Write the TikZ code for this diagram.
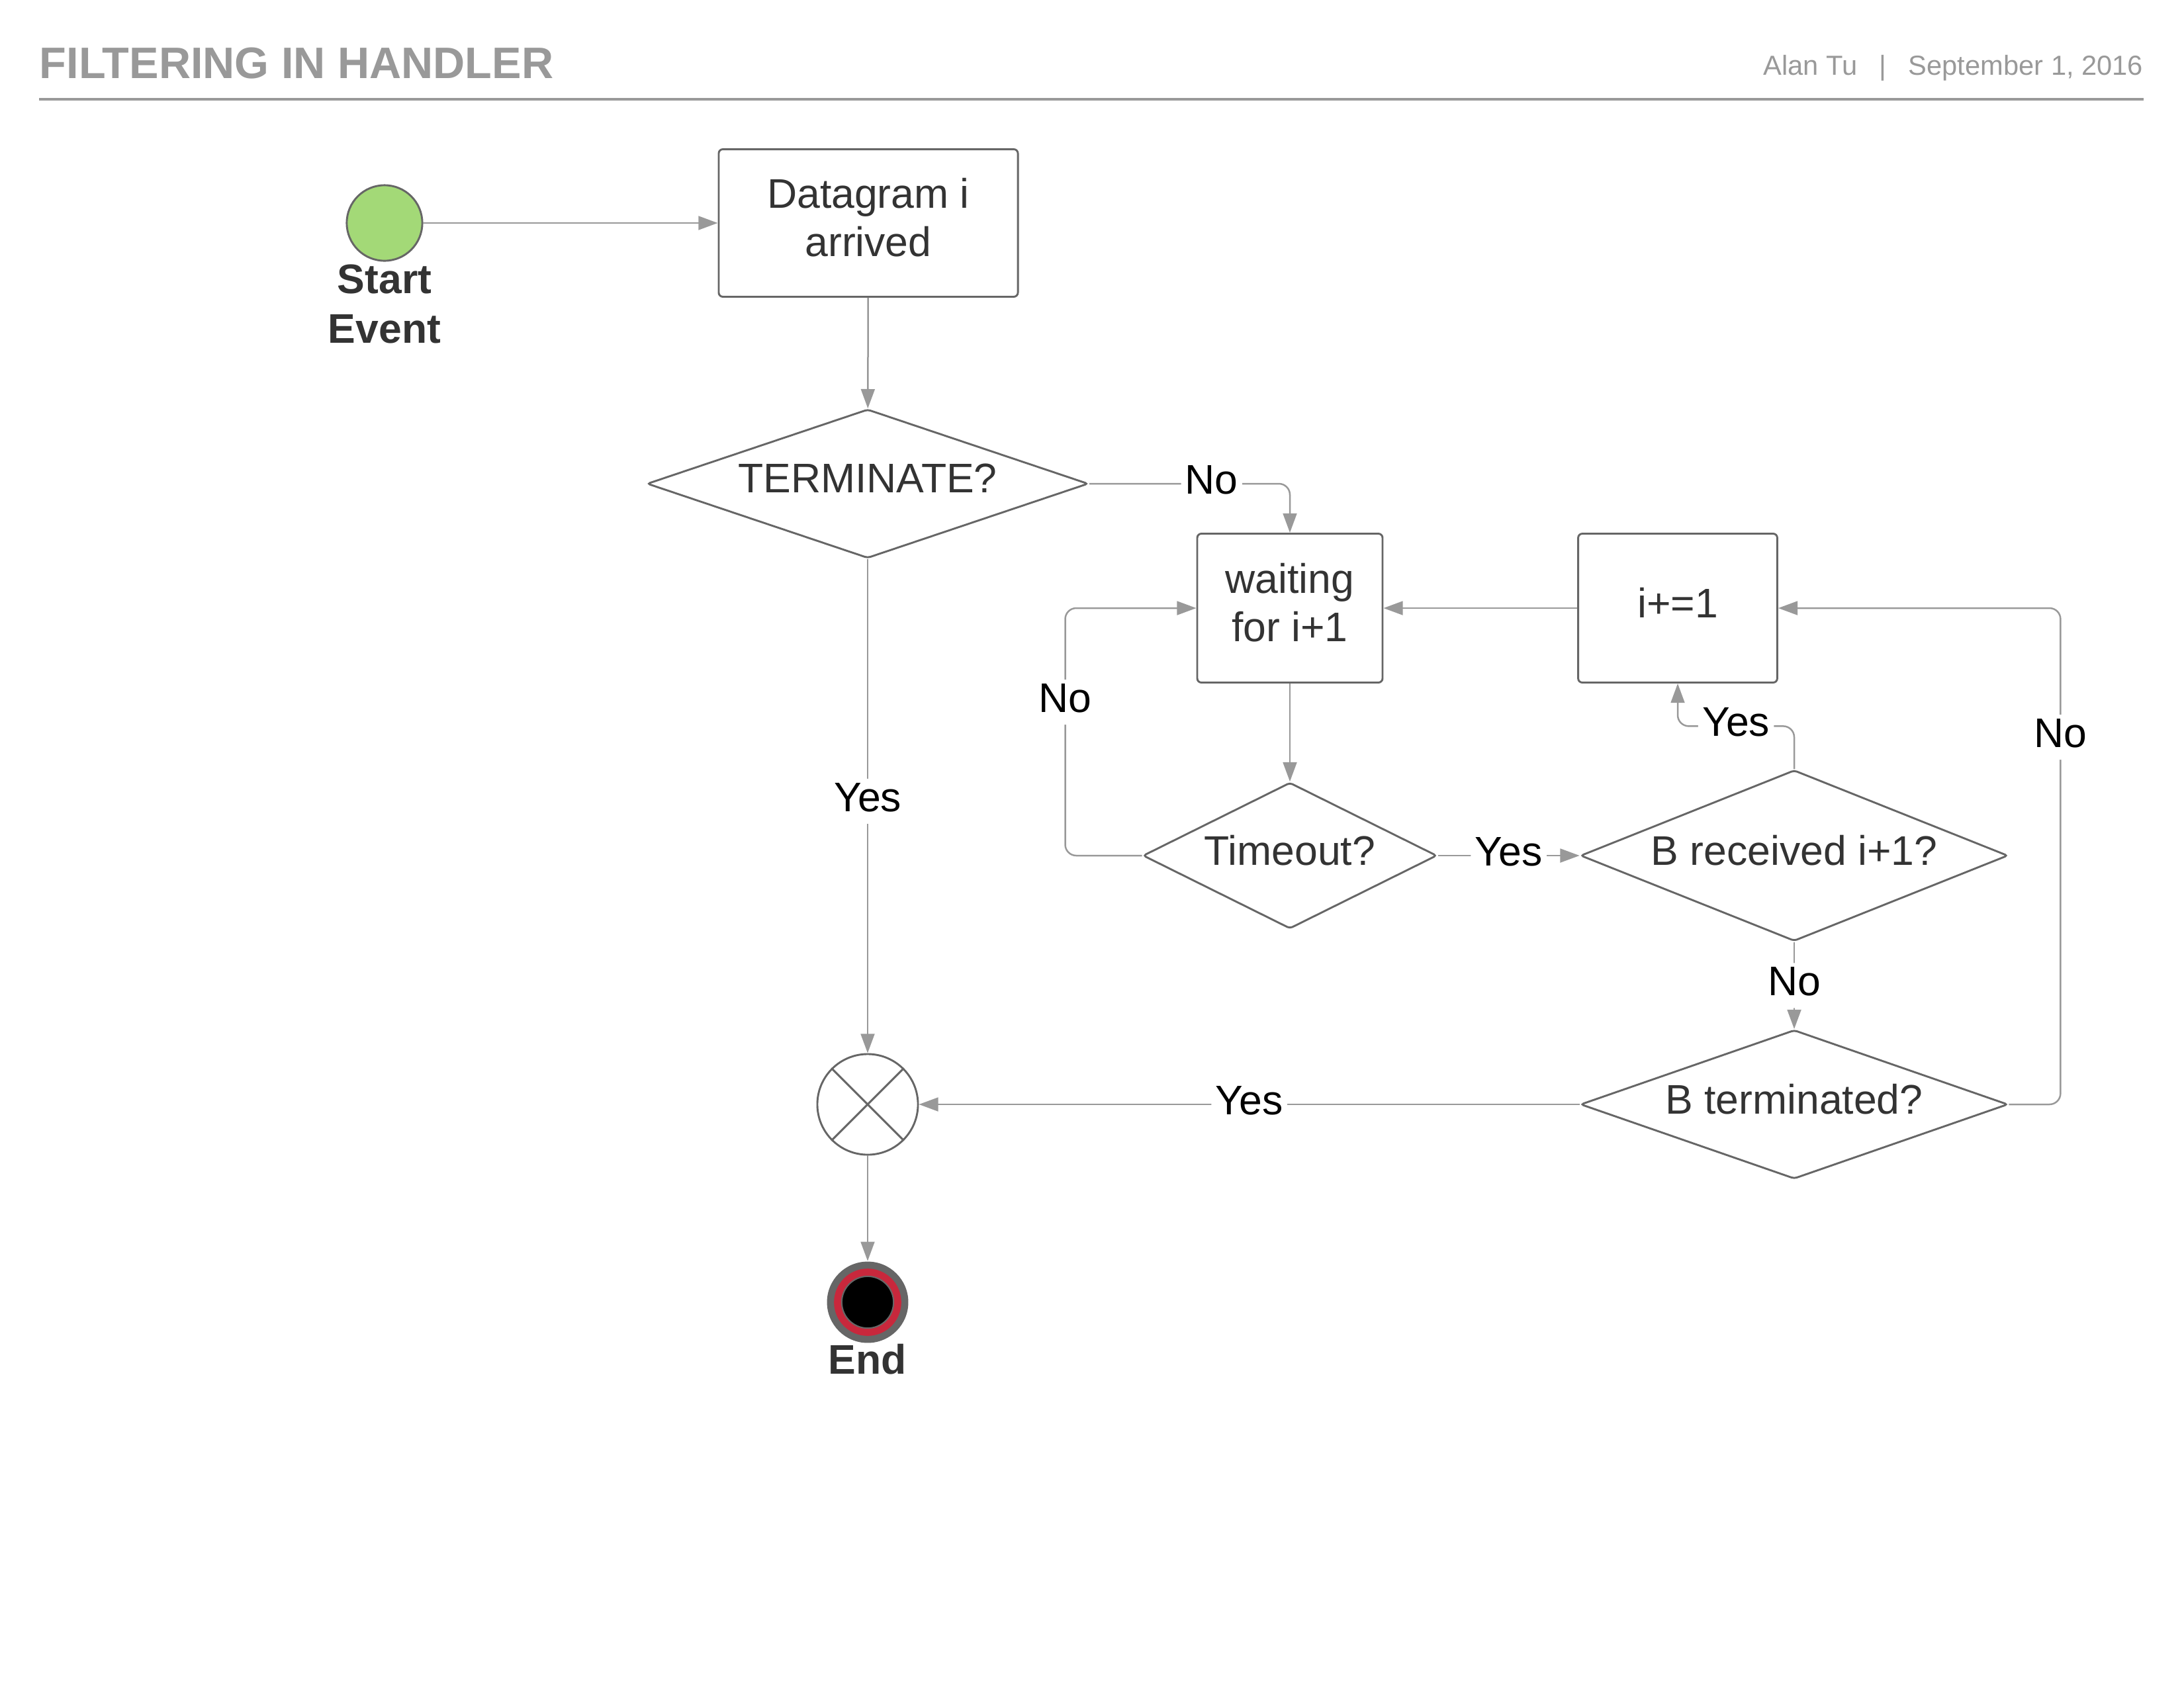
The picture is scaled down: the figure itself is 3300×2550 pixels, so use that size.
\documentclass[tikz,border=0pt]{standalone}
\usepackage{fontspec}
\setmainfont{Liberation Sans}
\usetikzlibrary{arrows.meta,shapes.geometric}
\definecolor{lineGray}{HTML}{999999}
\definecolor{edgeGray}{HTML}{666666}
\definecolor{textGray}{HTML}{333333}
\definecolor{startGreen}{HTML}{A3D977}
\definecolor{endRed}{HTML}{C8283C}
\begin{document}
\begin{tikzpicture} [x=0.24pt,y=-0.24pt,
  txt/.style={font=\fontsize{15}{17.5}\selectfont,text=textGray,text depth=4pt},
  task/.style={txt,draw=edgeGray,line width=0.7pt,rounded corners=1.5pt,align=center,inner sep=0pt},
  gate/.style={txt,diamond,aspect=3,draw=edgeGray,line width=0.7pt,rounded corners=1pt,inner sep=0pt},
  conn/.style={draw=lineGray,line width=0.6pt,-{Triangle[length=7pt,width=5pt]},rounded corners=4pt},
  lbl/.style={font=\fontsize{15}{17.5}\selectfont,text depth=3pt,fill=white,inner sep=1.5pt},
  evlbl/.style={font=\fontsize{15}{18}\selectfont\bfseries,text=textGray,align=center}]
\useasboundingbox (0,0) rectangle (3300,2550);
\node[anchor=base west,font=\fontsize{16}{19}\selectfont\bfseries,text=lineGray,inner sep=0pt] (title) at (59,118) {FILTERING IN HANDLER};
\node[anchor=base east,font=\fontsize{10}{12}\selectfont,text=lineGray,inner sep=0pt] (author) at (3239,113) {Alan Tu\hspace{8pt}|\hspace{8pt}September 1, 2016};
\draw[lineGray,line width=1pt] (59,150) -- (3239,150);
\node[circle,draw=edgeGray,fill=startGreen,line width=0.7pt,minimum size=27.4pt,inner sep=0pt] (start) at (581,337) {};
\node[evlbl] (startlbl) at (581,459) {Start\\Event};
\node[task,minimum width=108.5pt,minimum height=53.5pt] (dgram) at (1312,337) {Datagram i\\arrived};
\node[gate,minimum width=160pt,minimum height=54pt] (term) at (1311,731) {TERMINATE?};
\node[task,minimum width=67.2pt,minimum height=54pt] (wait) at (1949,919) {waiting\\for i+1};
\node[task,minimum width=72.2pt,minimum height=54pt] (inc) at (2535,919) {i+=1};
\node[gate,minimum width=106pt,minimum height=53pt] (tmo) at (1949,1293) {Timeout?};
\node[gate,minimum width=155pt,minimum height=62pt] (brc) at (2711,1293) {B received i+1?};
\node[gate,minimum width=155pt,minimum height=54pt] (btm) at (2711,1669) {B terminated?};
\node[circle,draw=edgeGray,line width=0.7pt,minimum size=36.5pt,inner sep=0pt] (xgw) at (1311,1669) {};
\draw[edgeGray,line width=0.7pt] (xgw.north west) -- (xgw.south east) (xgw.north east) -- (xgw.south west);
\node[circle,fill=edgeGray,minimum size=29.5pt,inner sep=0pt] (endev) at (1311,1968) {};
\fill[endRed] (endev) circle[radius=12.2pt];
\filldraw[fill=black,draw=edgeGray,line width=0.5pt] (endev) circle[radius=9.4pt];
\node[evlbl] (endlbl) at (1311,2054) {End};
\draw[conn] (start) -- (dgram);
\draw[conn] (dgram) -- (term);
\draw[conn] (term.east) -- node[lbl,pos=0.61] {No} (term.east -| wait.north) -- (wait.north);
\draw[conn] (term.south) -- node[lbl,pos=0.49] {Yes} (xgw);
\draw[conn] (wait) -- (tmo);
\draw[conn] (tmo.west) -- ++(-116,0) |- node[lbl,pos=0.31] {No} (wait.west);
\draw[conn] (tmo.east) -- node[lbl] {Yes} (brc.west);
\draw[conn] (brc.north) -- ++(0,-65) -| node[lbl,pos=0.25] {Yes} (inc.south);
\draw[conn] (inc) -- (wait);
\draw[conn] (brc.south) -- node[lbl] {No} (btm.north);
\draw[conn] (btm.east) -- ++(78,0) |- node[lbl,pos=0.37] {No} (inc.east);
\draw[conn] (btm.west) -- node[lbl] {Yes} (xgw);
\draw[conn] (xgw) -- (endev);
\end{tikzpicture}
\end{document}
